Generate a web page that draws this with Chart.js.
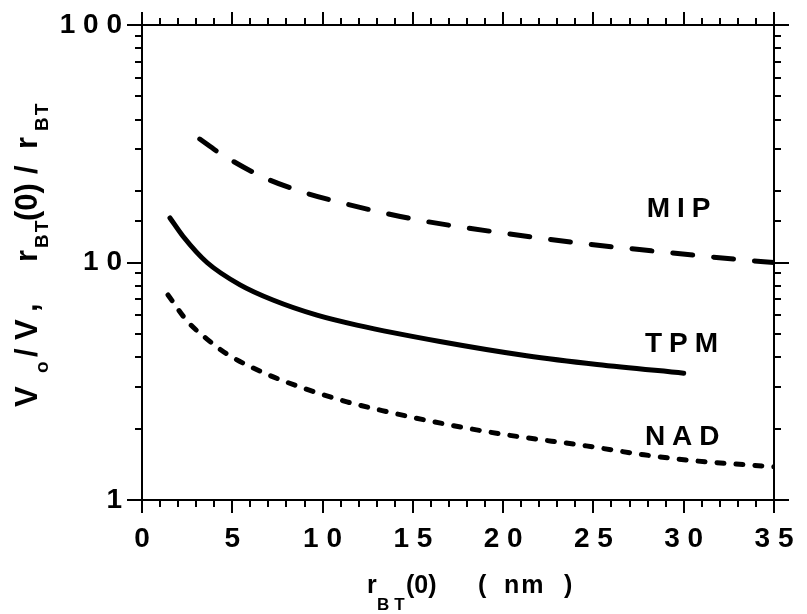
<!DOCTYPE html>
<html><head><meta charset="utf-8">
<script src="https://cdn.jsdelivr.net/npm/chart.js@4/dist/chart.umd.min.js"></script>
<style>html,body{margin:0;padding:0;background:#fff}#wrap{width:807px;height:614px;position:relative}</style>
</head><body><div id="wrap"><canvas id="c" width="807" height="614"></canvas></div>
<script>
// ---- data ----
const mipX = [3.2, 4.3, 6.7, 8.9, 11.1, 13.2, 15.5, 20.0, 24.3, 28.2, 33.3, 35.0];
const mipY = [33.1, 28.9, 22.9, 19.8, 17.8, 16.3, 15.0, 13.3, 12.05, 11.2, 10.25, 10.0];
const tpmX = [1.55, 2.27, 3.6, 5.43, 7.25, 9.69, 11.9, 16.5, 21.3, 25.2, 30.0];
const tpmY = [15.4, 12.9, 10.0, 8.05, 6.95, 6.0, 5.45, 4.65, 4.05, 3.72, 3.42];
const nadX = [1.44, 2.5, 3.6, 4.7, 6.9, 9.1, 11.35, 13.3, 16.9, 20.2, 24.6, 27.8, 30.5, 35.0];
const nadY = [7.3, 5.67, 4.76, 4.12, 3.39, 2.93, 2.59, 2.38, 2.08, 1.88, 1.69, 1.55, 1.465, 1.38];
const seriesNames = ['MIP', 'TPM', 'NAD'];
const xTickValues = [0, 5, 10, 15, 20, 25, 30, 35];
const xTickText = ['0', '5', '1 0', '1 5', '2 0', '2 5', '3 0', '3 5'];
const yTickValues = [1, 10, 100];
const yTickText = ['1', '1 0', '1 0 0'];

const FONT = '"Liberation Sans", Arial, Helvetica, sans-serif';
const pts = (xs, ys) => xs.map((x, i) => ({x, y: ys[i]}));

// label anchors (data coords)
const seriesLabelPos = [[27.95, 15.55], [27.85, 4.2], [27.85, 1.704]];

function setLS(ctx, v){ if ('letterSpacing' in ctx) ctx.letterSpacing = v; }

const framePlugin = {
  id: 'frame',
  afterDatasetsDraw(chart){
    const ctx = chart.ctx, a = chart.chartArea, xs = chart.scales.x, ys = chart.scales.y;
    ctx.save();
    ctx.strokeStyle = '#000'; ctx.lineWidth = 2; ctx.lineCap = 'butt';
    ctx.strokeRect(a.left, a.top, a.right - a.left, a.bottom - a.top);
    ctx.beginPath();
    xs.ticks.forEach(t => {
      const v = t.value, px = Math.round(xs.getPixelForValue(v));
      const len = (Math.abs(v % 5) < 1e-9) ? 13 : 7;
      ctx.moveTo(px, a.bottom); ctx.lineTo(px, a.bottom + len);
      ctx.moveTo(px, a.top); ctx.lineTo(px, a.top - len);
    });
    ys.ticks.forEach(t => {
      const v = t.value, py = Math.round(ys.getPixelForValue(v));
      const lg = Math.log10(v);
      const len = (Math.abs(lg - Math.round(lg)) < 1e-9) ? 15 : 7;
      ctx.moveTo(a.left, py); ctx.lineTo(a.left - len, py);
      ctx.moveTo(a.right, py); ctx.lineTo(a.right + len, py);
    });
    ctx.stroke();

    // series labels
    ctx.fillStyle = '#000';
    ctx.font = 'bold 28px ' + FONT;
    ctx.textBaseline = 'alphabetic'; ctx.textAlign = 'left';
    setLS(ctx, '7px');
    seriesNames.forEach((n, i) => {
      const p = seriesLabelPos[i];
      ctx.fillText(n, xs.getPixelForValue(p[0]), ys.getPixelForValue(p[1]));
    });

    // x axis title
    const L = a.left, B = a.bottom;
    const xm = 'bold 25px ' + FONT, xsb = 'bold 17px ' + FONT;
    const xParts = [
      ['r', 225, 93, xm, '0px'],
      ['BT', 235, 110, xsb, '5px'],
      ['(0)', 264, 93, xm, '0px'],
      ['(', 336, 93, xm, '0px'],
      ['nm', 362, 93, xm, '2px'],
      [')', 422, 93, xm, '0px']
    ];
    xParts.forEach(p => { ctx.font = p[3]; setLS(ctx, p[4]); ctx.fillText(p[0], L + p[1], B + p[2]); });

    // y axis title (rotated)
    ctx.save();
    ctx.translate(37, 407);
    ctx.rotate(-Math.PI / 2);
    const ym = 'bold 31px ' + FONT, ysb = 'bold 19px ' + FONT;
    const yParts = [
      ['V', 0, 0, ym, '0px'],
      ['o', 34, 11, ysb, '0px'],
      ['/', 50, 0, ym, '0px'],
      ['V', 67, 0, ym, '0px'],
      [',', 95, 0, ym, '0px'],
      ['r', 145, 0, ym, '0px'],
      ['BT', 159, 11, ysb, '2px'],
      ['(0)', 186, 0, ym, '0px'],
      ['/', 233, 0, ym, '0px'],
      ['r', 258, 0, ym, '0px'],
      ['BT', 276, 11, ysb, '2px']
    ];
    yParts.forEach(p => { ctx.font = p[3]; setLS(ctx, p[4]); ctx.fillText(p[0], p[1], p[2]); });
    ctx.restore();
    setLS(ctx, '0px');
    ctx.restore();
  }
};

const zeroPad = (s) => { s.paddingTop = 0; s.paddingBottom = 0; s.paddingLeft = 0; s.paddingRight = 0; };
const tickFont = {family: FONT, size: 28, weight: 'bold'};
new Chart(document.getElementById('c'), {
  type: 'line',
  data: {
    datasets: [
      {label: seriesNames[0], data: pts(mipX, mipY), borderColor: '#000', borderWidth: 5,
       borderDash: [20, 21], borderCapStyle: 'round', pointRadius: 0, cubicInterpolationMode: 'monotone', fill: false},
      {label: seriesNames[1], data: pts(tpmX, tpmY), borderColor: '#000', borderWidth: 5,
       borderCapStyle: 'round', pointRadius: 0, cubicInterpolationMode: 'monotone', fill: false},
      {label: seriesNames[2], data: pts(nadX, nadY), borderColor: '#000', borderWidth: 5,
       borderDash: [7, 12], borderCapStyle: 'round', pointRadius: 0, cubicInterpolationMode: 'monotone', fill: false}
    ]
  },
  options: {
    responsive: false, animation: false, devicePixelRatio: 1,
    layout: {padding: {top: 25, right: 33, left: 0, bottom: 0}},
    plugins: {legend: {display: false}, tooltip: {enabled: false}, title: {display: false}},
    scales: {
      x: {
        type: 'linear', position: 'bottom', min: 0, max: 35,
        grid: {display: false}, border: {display: false},
        ticks: {stepSize: 1, autoSkip: false, maxRotation: 0, minRotation: 0, color: '#000', font: tickFont, padding: 14,
          callback: (v) => { const i = xTickValues.findIndex(t => Math.abs(t - v) < 1e-9); return i >= 0 ? xTickText[i] : ''; }},
        afterFit: (s) => { s.height = 114; zeroPad(s); }
      },
      y: {
        type: 'logarithmic', position: 'left', min: 1, max: 100,
        grid: {display: false}, border: {display: false},
        ticks: {autoSkip: false, color: '#000', font: tickFont, padding: 12,
          callback: (v) => { const i = yTickValues.findIndex(t => Math.abs(t - v) < 1e-6); return i >= 0 ? yTickText[i] : ''; }},
        afterFit: (s) => { s.width = 142; zeroPad(s); }
      }
    }
  },
  plugins: [framePlugin]
});
</script></body></html>
